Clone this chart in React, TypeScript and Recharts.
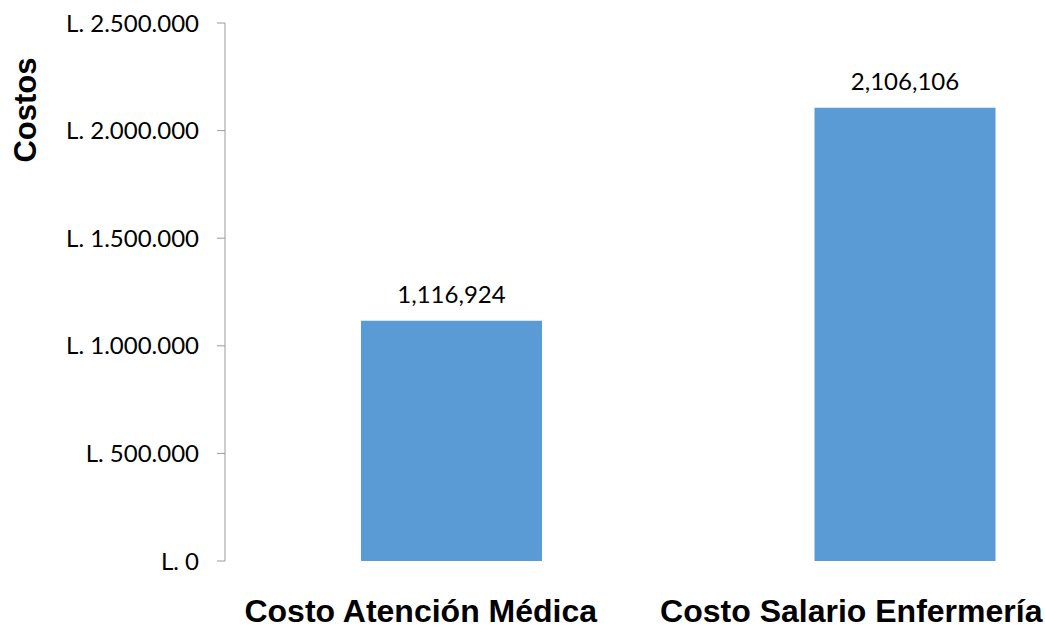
import { BarChart, Bar, XAxis, YAxis, LabelList } from "recharts";

const categories = ["Costo Atención Médica", "Costo Salario Enfermería"];
const costValues = [1116924, 2106106];
const yTicks = [0, 500000, 1000000, 1500000, 2000000, 2500000];
// Excel pulls the category labels a bit to the left of the bar centres
const labelShift = [-31, -54];

const data = categories.map((name, i) => ({ name, costo: costValues[i] }));

const fmtLempira = (v: number) =>
  "L. " + Math.round(v).toString().replace(/\B(?=(\d{3})+(?!\d))/g, ".");

function CategoryTick(props: any) {
  const { x, y, payload, index } = props;
  return (
    <text
      x={x + (labelShift[index] ?? 0)}
      y={y + 61}
      textAnchor="middle"
      fontFamily="'Liberation Sans', Arial, sans-serif"
      fontWeight="bold"
      fontSize={32}
      fill="#000"
    >
      {payload.value}
    </text>
  );
}

function AxisTitle(props: any) {
  const vb = props.viewBox ?? { x: 0, y: 23 };
  const cx = vb.x + 25;
  const cy = vb.y + 87;
  return (
    <text
      x={cx}
      y={cy}
      transform={`rotate(-90, ${cx}, ${cy})`}
      textAnchor="middle"
      dominantBaseline="central"
      fontFamily="'Liberation Sans', Arial, sans-serif"
      fontWeight="bold"
      fontSize={31}
      fill="#000"
    >
      Costos
    </text>
  );
}

export default function App() {
  return (
    <div
      style={{
        position: "absolute",
        left: 0,
        top: 0,
        width: 1045,
        height: 628,
        overflow: "hidden",
        background: "#fff",
      }}
    >
      <BarChart
        width={1132}
        height={628}
        data={data}
        margin={{ top: 23, right: 0, bottom: 0, left: 0 }}
      >
        <XAxis
          dataKey="name"
          axisLine={false}
          tickLine={false}
          tickSize={0}
          tickMargin={0}
          height={67}
          interval={0}
          tick={<CategoryTick />}
        />
        <YAxis
          width={225}
          domain={[0, 2500000]}
          ticks={yTicks}
          tickFormatter={fmtLempira}
          axisLine={{ stroke: "#9a9a9a" }}
          tickLine={{ stroke: "#9a9a9a" }}
          tickSize={8}
          tickMargin={18}
          tick={{ fontSize: 24, fontFamily: "Lato, sans-serif", fill: "#000" }}
          label={<AxisTitle />}
        />
        <Bar dataKey="costo" fill="#5b9bd5" barSize={181} isAnimationActive={false}>
          <LabelList
            dataKey="costo"
            position="top"
            offset={18}
            formatter={(v: any) => Number(v).toLocaleString("en-US")}
            style={{ fontSize: 24, fontFamily: "Lato, sans-serif", fill: "#000" }}
          />
        </Bar>
      </BarChart>
    </div>
  );
}
